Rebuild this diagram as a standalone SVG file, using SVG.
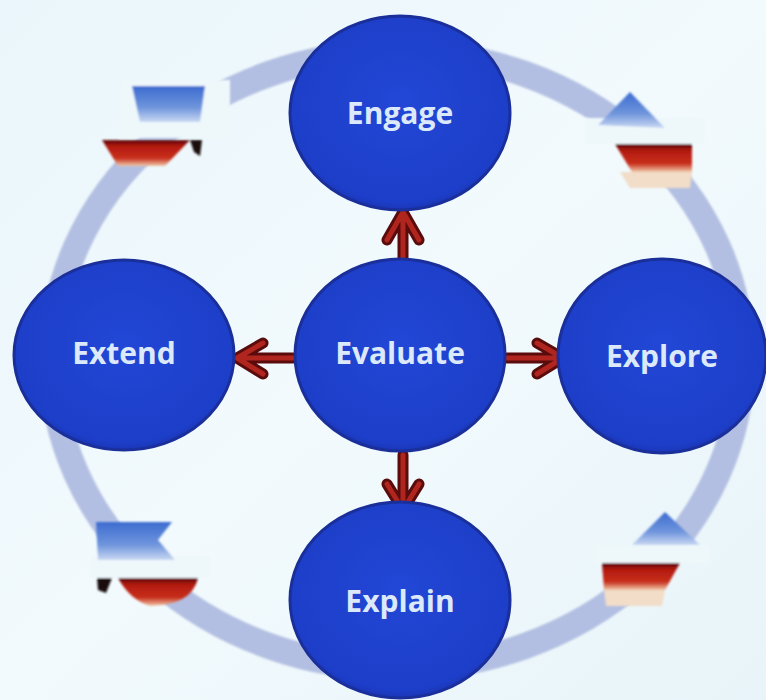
<svg xmlns="http://www.w3.org/2000/svg" width="766" height="700" viewBox="0 0 766 700">
  <defs>
    <linearGradient id="bg" x1="0" y1="0" x2="1" y2="1">
      <stop offset="0" stop-color="#eaf6fb"/>
      <stop offset="0.5" stop-color="#f2fafd"/>
      <stop offset="1" stop-color="#e8f4f9"/>
    </linearGradient>
    <radialGradient id="disc" cx="0.5" cy="0.45" r="0.6">
      <stop offset="0" stop-color="#2247d6"/>
      <stop offset="0.85" stop-color="#1d3ec8"/>
      <stop offset="1" stop-color="#152ca2"/>
    </radialGradient>
    <linearGradient id="redband" x1="0" y1="0" x2="0" y2="1">
      <stop offset="0" stop-color="#5a0808"/>
      <stop offset="0.25" stop-color="#b41a10"/>
      <stop offset="0.7" stop-color="#c8301c"/>
      <stop offset="1" stop-color="#f0c8a8"/>
    </linearGradient>
    <linearGradient id="blueband" x1="0" y1="0" x2="0" y2="1">
      <stop offset="0" stop-color="#3c6cd0"/>
      <stop offset="0.6" stop-color="#6f95dc"/>
      <stop offset="1" stop-color="#c9d8f2"/>
    </linearGradient>
    <filter id="soft" x="-10%" y="-10%" width="120%" height="120%">
      <feGaussianBlur stdDeviation="1.2"/>
    </filter>
  </defs>
  <style>
    .disc { fill: url(#disc); stroke: #1a2f9a; stroke-width: 3; }
    .label { font-family: "Open Sans", "Liberation Sans", sans-serif; font-weight: 700; font-size: 30px; fill: #dce9fb; text-anchor: middle; dominant-baseline: central; }
    .shaft { fill: none; stroke: #5a0b0b; stroke-width: 11; stroke-linecap: round; stroke-linejoin: round; }
    .shaft-in { fill: none; stroke: #b0261f; stroke-width: 5; stroke-linecap: round; stroke-linejoin: round; }
    .ring { fill: none; stroke: #b3bfe2; stroke-width: 26; }
    .gap { fill: #eef8fb; }
    .blue { fill: url(#blueband); }
    .red { fill: url(#redband); }
  </style>

  <rect width="766" height="700" fill="url(#bg)"/>

  <!-- cycle ring behind the discs -->
  <ellipse class="ring" cx="397" cy="360" rx="345" ry="308" filter="url(#soft)"/>

  <!-- flow marks on the ring -->
  <g id="flow-marks" filter="url(#soft)">
    <!-- top left -->
    <rect class="gap" x="120" y="80" width="110" height="58"/>
    <path class="blue" d="M132,86 L205,86 L200,122 L140,122 Z"/>
    <path class="red" d="M102,140 L190,140 L165,166 L118,166 Z"/>
    <path d="M190,140 L202,140 L200,156 L194,152 Z" fill="#1a1010"/>
    <!-- top right -->
    <rect class="gap" x="585" y="118" width="120" height="26"/>
    <path class="blue" d="M598,125 L630,92 L665,128 Z"/>
    <path class="red" d="M615,144 L692,144 L692,172 L632,172 Z"/>
    <path d="M620,172 L692,172 L690,188 L630,188 Z" fill="#f2ddc8"/>
    <!-- bottom left -->
    <rect class="gap" x="90" y="556" width="120" height="22"/>
    <path class="blue" d="M96,522 L172,522 L158,540 L175,560 L98,560 Z"/>
    <path class="red" d="M118,578 L198,578 Q192,605 150,606 Q130,600 118,578 Z"/>
    <path d="M97,578 L112,578 L106,593 L98,590 Z" fill="#1a1010"/>
    <!-- bottom right -->
    <rect class="gap" x="595" y="545" width="115" height="18"/>
    <path class="blue" d="M632,545 L665,512 L700,545 Z"/>
    <path class="red" d="M602,563 L680,563 L665,590 L604,590 Z"/>
    <path d="M604,590 L665,590 L662,606 L606,606 Z" fill="#f2ddc8"/>
  </g>

  <!-- arrows from the centre disc to the outer discs -->
  <g id="connectors">
    <path class="shaft" d="M403,258 V212 M387,240 L403,212 L419,240"/>
    <path class="shaft-in" d="M403,258 V212 M387,240 L403,212 L419,240"/>
    <path class="shaft" d="M403,455 V508 M387,484 L403,510 L419,484"/>
    <path class="shaft-in" d="M403,455 V508 M387,484 L403,510 L419,484"/>
    <path class="shaft" d="M293,358 H238 M263,343 L237,358 L263,374"/>
    <path class="shaft-in" d="M293,358 H238 M263,343 L237,358 L263,374"/>
    <path class="shaft" d="M507,358 H562 M537,343 L563,358 L537,374"/>
    <path class="shaft-in" d="M507,358 H562 M537,343 L563,358 L537,374"/>
  </g>

  <g id="engage">
    <ellipse class="disc" cx="400" cy="113" rx="110" ry="97"/>
    <text class="label" x="400" y="112">Engage</text>
  </g>
  <g id="evaluate">
    <ellipse class="disc" cx="400" cy="355" rx="105" ry="96"/>
    <text class="label" x="400" y="352">Evaluate</text>
  </g>
  <g id="extend">
    <ellipse class="disc" cx="124" cy="355" rx="110" ry="95"/>
    <text class="label" x="124" y="352">Extend</text>
  </g>
  <g id="explore">
    <ellipse class="disc" cx="662" cy="356" rx="104" ry="97"/>
    <text class="label" x="662" y="355">Explore</text>
  </g>
  <g id="explain">
    <ellipse class="disc" cx="400" cy="600" rx="110" ry="98"/>
    <text class="label" x="400" y="600">Explain</text>
  </g>
</svg>
